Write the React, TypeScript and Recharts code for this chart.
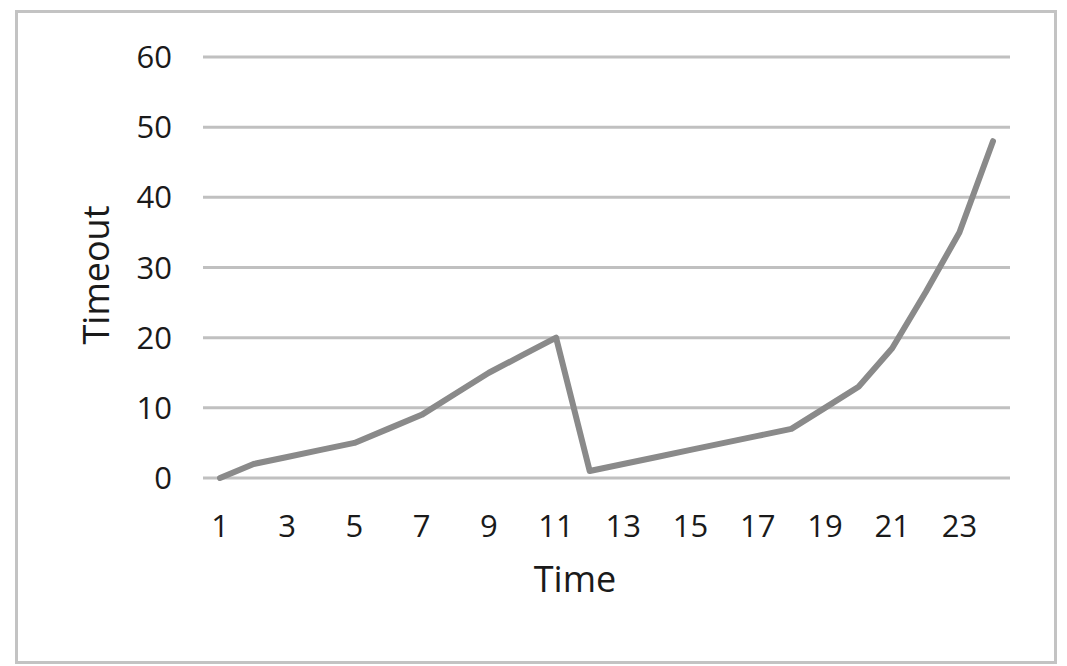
import { LineChart, Line, XAxis, YAxis, CartesianGrid } from "recharts";

const times = [1, 2, 3, 4, 5, 6, 7, 8, 9, 10, 11, 12, 13, 14, 15, 16, 17, 18, 19, 20, 21, 22, 23, 24];
const timeouts = [0, 2, 3, 4, 5, 7, 9, 12, 15, 17.5, 20, 1, 2, 3, 4, 5, 6, 7, 10, 13, 18.5, 26.5, 35, 48];
const yTicks = [0, 10, 20, 30, 40, 50, 60];

const data = times.map((t, i) => ({ time: t, timeout: timeouts[i] }));

const font = "'Open Sans', 'Noto Sans', sans-serif";
const tickStyle = { fontSize: 31, fill: "#1a1a1a", fontFamily: font };

export default function App() {
  return (
    <div style={{ position: "absolute", left: 0, top: 0, width: 1067, height: 666, background: "#fff" }}>
      <div
        style={{
          position: "absolute",
          left: 15,
          top: 10,
          width: 1036,
          height: 648,
          border: "3px solid #c3c3c3",
        }}
      />
      <div style={{ position: "absolute", left: 0, top: 0 }}>
        <LineChart width={1067} height={666} data={data} margin={{ top: 57, right: 57, bottom: 128, left: 103 }}>
          <CartesianGrid horizontal vertical={false} stroke="#c0c0c0" strokeWidth={3} />
          <XAxis
            dataKey="time"
            interval={1}
            padding={{ left: 17, right: 17 }}
            axisLine={false}
            tickLine={false}
            tickSize={0}
            tickMargin={37}
            height={60}
            tick={tickStyle}
          />
          <YAxis
            domain={[0, 60]}
            ticks={yTicks}
            width={100}
            axisLine={false}
            tickLine={false}
            tickSize={0}
            tickMargin={31}
            tick={tickStyle}
          />
          <Line
            type="linear"
            dataKey="timeout"
            stroke="#8a8a8a"
            strokeWidth={6}
            strokeLinejoin="round"
            strokeLinecap="round"
            dot={false}
            isAnimationActive={false}
          />
        </LineChart>
      </div>
      <div
        style={{
          position: "absolute",
          left: 575,
          top: 561,
          transform: "translateX(-50%)",
          fontFamily: font,
          fontSize: 36,
          lineHeight: 1,
          color: "#1a1a1a",
          whiteSpace: "nowrap",
        }}
      >
        Time
      </div>
      <div
        style={{
          position: "absolute",
          left: 96,
          top: 275,
          transform: "translate(-50%, -50%) rotate(-90deg)",
          fontFamily: font,
          fontSize: 36,
          lineHeight: 1,
          color: "#1a1a1a",
          whiteSpace: "nowrap",
        }}
      >
        Timeout
      </div>
    </div>
  );
}
